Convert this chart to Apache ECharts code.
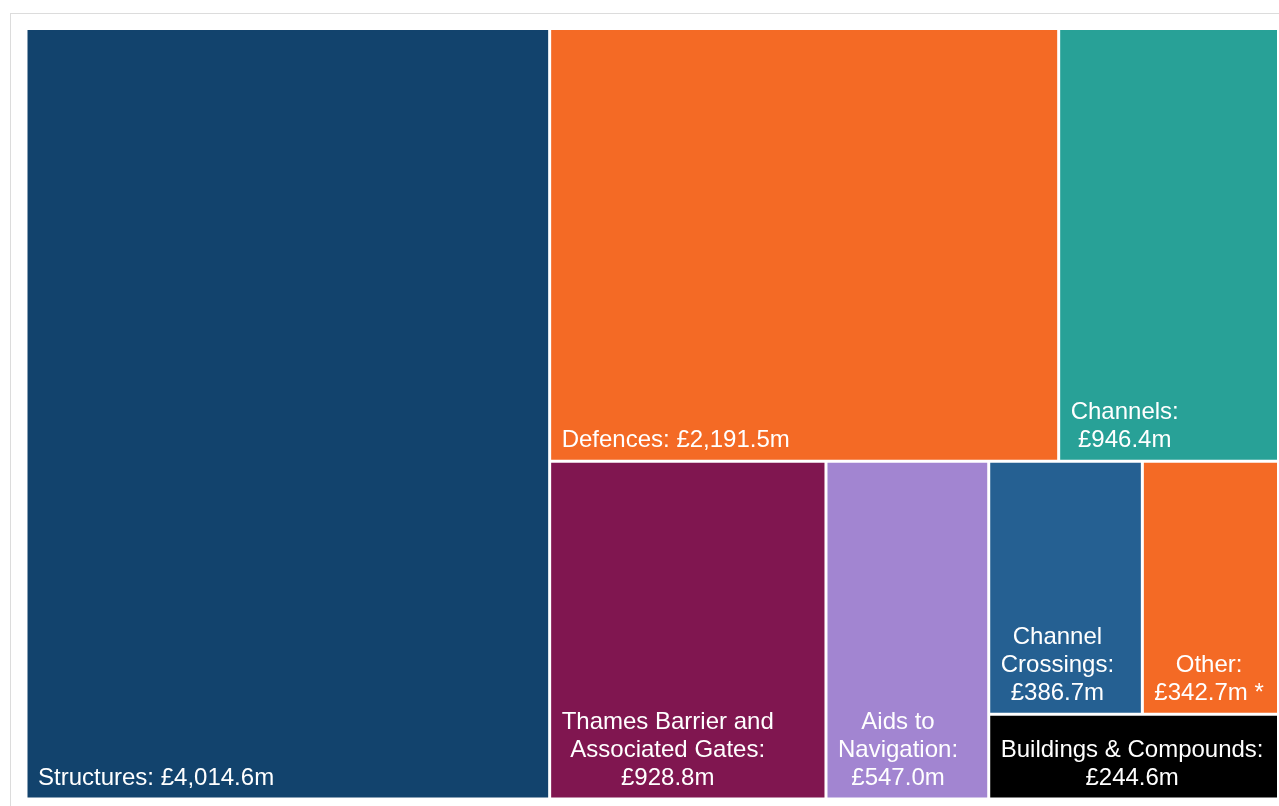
<!DOCTYPE html>
<html><head><meta charset="utf-8">
<script src="https://cdn.jsdelivr.net/npm/echarts@6/dist/echarts.min.js"></script>
<style>
html,body{margin:0;padding:0;background:#fff;overflow:hidden}
#frame{position:absolute;left:10px;top:13px;width:1400px;height:900px;border:1px solid #dcdcdc;box-sizing:border-box}
#chart{position:absolute;left:0;top:0;width:1279px;height:806px}
</style></head>
<body><div id="frame"></div><div id="chart"></div>
<script>
const categories = ['Structures', 'Defences', 'Channels', 'Thames Barrier and Associated Gates', 'Aids to Navigation', 'Channel Crossings', 'Other', 'Buildings & Compounds'];
const values = [4014.6, 2191.5, 946.4, 928.8, 547.0, 386.7, 342.7, 244.6];
const labelNames = ['Structures: ', 'Defences: ', 'Channels:\n', 'Thames Barrier and\nAssociated Gates:\n', 'Aids to\nNavigation:\n', 'Channel\nCrossings:\n', 'Other:\n', 'Buildings & Compounds:\n'];
const labelSuffix = ['', '', '', '', '', '', ' *', ''];
const colors = ['#12436D', '#F46A25', '#28A197', '#801650', '#A285D1', '#256092', '#F46A25', '#000000'];

const FONT_FAMILY = 'Liberation Sans';
const FONT_SIZE = 24;
const fmt = v => '£' + v.toLocaleString('en-GB', {minimumFractionDigits: 1, maximumFractionDigits: 1}) + 'm';
const labelText = categories.map((c, i) => labelNames[i] + fmt(values[i]) + labelSuffix[i]);

const ctx = document.createElement('canvas').getContext('2d');
ctx.font = FONT_SIZE + 'px "' + FONT_FAMILY + '"';
const blockWidth = labelText.map(t => Math.max(...t.split('\n').map(l => ctx.measureText(l).width)));

const chart = echarts.init(document.getElementById('chart'), null, {renderer: 'canvas'});
chart.setOption({
  animation: false,
  series: [{
    type: 'treemap',
    left: 27.5, top: 30, width: 1249.5, height: 767.5,
    roam: false,
    nodeClick: false,
    breadcrumb: {show: false},
    sort: 'desc',
    squareRatio: 0.95,
    itemStyle: {gapWidth: 3, borderWidth: 0, borderColor: '#fff'},
    label: {
      show: true,
      position: 'insideBottomLeft',
      distance: 6,
      padding: 0,
      align: 'center',
      verticalAlign: 'bottom',
      color: '#fff',
      fontFamily: FONT_FAMILY,
      fontSize: FONT_SIZE,
      lineHeight: 28,
      overflow: 'none',
      formatter: p => {
        const i = categories.indexOf(p.name);
        return i >= 0 ? labelText[i] : '';
      }
    },
    emphasis: {disabled: true},
    data: categories.map((c, i) => ({
      name: c,
      value: values[i],
      itemStyle: {color: colors[i]},
      label: {offset: [blockWidth[i] / 2 + 4.5, 0.5]}
    }))
  }]
});
</script>
</body></html>
